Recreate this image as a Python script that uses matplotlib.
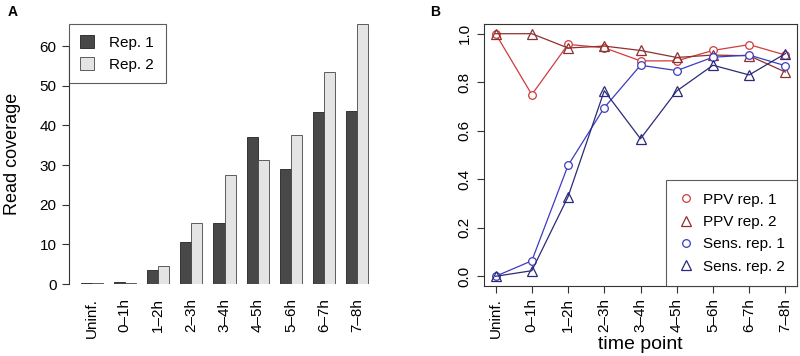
import matplotlib
matplotlib.use("Agg")
import matplotlib.pyplot as plt
import numpy as np

plt.rcParams['font.family'] = ['Liberation Sans', 'DejaVu Sans']

# ==== DATA ====
time_points = ["Uninf.", "0\u20131h", "1\u20132h", "2\u20133h", "3\u20134h",
               "4\u20135h", "5\u20136h", "6\u20137h", "7\u20138h"]

# panel A: read coverage per replicate
cov_rep1 = [0.2, 0.4, 3.6, 10.5, 15.5, 37.0, 29.0, 43.4, 43.7]
cov_rep2 = [0.2, 0.2, 4.5, 15.5, 27.6, 31.2, 37.5, 53.6, 65.6]

# panel B: PPV and sensitivity
ppv_rep1 = [1.0, 0.749, 0.956, 0.942, 0.888, 0.888, 0.931, 0.955, 0.912]
ppv_rep2 = [1.0, 1.0, 0.941, 0.949, 0.931, 0.902, 0.912, 0.909, 0.842]
sens_rep1 = [0.0, 0.064, 0.457, 0.695, 0.870, 0.848, 0.903, 0.912, 0.868]
sens_rep2 = [0.0, 0.023, 0.328, 0.765, 0.567, 0.764, 0.870, 0.830, 0.918]

# ==== STYLE ====
dark_bar = "#484848"
light_bar = "#e4e4e4"
c_ppv1 = "#d03c3c"
c_ppv2 = "#8e3030"
c_sens1 = "#3c3cc0"
c_sens2 = "#2a2a7a"

fig = plt.figure(figsize=(8.0, 3.56), dpi=100)

# ==== PANEL A ====
axA = fig.add_axes([69 / 800, 72 / 356, 311 / 800, 260 / 356])
n = len(time_points)
left1 = 1 + 3 * np.arange(n)
axA.bar(left1, cov_rep1, width=1, align="edge", color=dark_bar,
        edgecolor="#222222", linewidth=0.6, label="Rep. 1")
axA.bar(left1 + 1, cov_rep2, width=1, align="edge", color=light_bar,
        edgecolor="#444444", linewidth=0.6, label="Rep. 2")
axA.set_xlim(-0.04, 28.04)
axA.set_ylim(0, max(cov_rep2))
axA.set_xticks(left1 + 1)
axA.set_xticklabels(time_points, rotation=90, fontsize=11)
axA.tick_params(axis="x", length=0, pad=10)
axA.set_yticks(range(0, 70, 10))
axA.tick_params(axis="y", labelsize=11, length=5, width=0.8, pad=4,
                color="#333333")
for s in ["top", "right", "bottom"]:
    axA.spines[s].set_visible(False)
axA.spines["left"].set_bounds(0, 60)
axA.spines["left"].set_color("#333333")
axA.spines["left"].set_linewidth(0.8)
axA.set_ylabel("Read coverage", fontsize=13, labelpad=13)
legA = axA.legend(loc="upper left", fontsize=11, frameon=True, fancybox=False,
                  borderaxespad=0, handlelength=0.9, handleheight=0.9,
                  borderpad=0.75, handletextpad=1.0, labelspacing=0.45)
legA.get_frame().set_edgecolor("#333333")
legA.get_frame().set_linewidth(0.8)
fig.text(8 / 800, 1 - 12 / 356, "A", fontsize=10, fontweight="bold", va="center")

# ==== PANEL B ====
axB = fig.add_axes([484 / 800, 70 / 356, 313 / 800, 262 / 356])
xs = np.arange(1, n + 1)
axB.plot(xs, ppv_rep1, color=c_ppv1, lw=0.9, marker="o", ms=5.5,
         mfc="white", mec=c_ppv1, mew=0.9, label="PPV rep. 1")
axB.plot(xs, ppv_rep2, color=c_ppv2, lw=0.9, marker="^", ms=6.5,
         mfc="none", mec=c_ppv2, mew=0.9, label="PPV rep. 2")
axB.plot(xs, sens_rep1, color=c_sens1, lw=0.9, marker="o", ms=5.5,
         mfc="white", mec=c_sens1, mew=0.9, label="Sens. rep. 1")
axB.plot(xs, sens_rep2, color=c_sens2, lw=0.9, marker="^", ms=6.5,
         mfc="none", mec=c_sens2, mew=0.9, label="Sens. rep. 2")
axB.set_xlim(0.68, 9.32)
axB.set_ylim(-0.04, 1.04)
axB.set_xticks(xs)
axB.set_xticklabels(time_points, rotation=90, fontsize=11)
axB.set_yticks(np.arange(0, 1.01, 0.2))
axB.set_yticklabels(["%.1f" % v for v in np.arange(0, 1.01, 0.2)],
                    rotation=90, va="center", fontsize=11)
axB.tick_params(length=5, width=0.8, pad=4, color="#333333")
for s in axB.spines.values():
    s.set_color("#333333")
    s.set_linewidth(0.8)
axB.set_xlabel("time point", fontsize=14, labelpad=-2)
legB = axB.legend(loc="lower right", fontsize=11, frameon=True, fancybox=False,
                  borderaxespad=0, handlelength=1.0, borderpad=0.8,
                  handletextpad=0.6, labelspacing=0.55)
for h in legB.get_lines():
    h.set_linestyle("none")
legB.get_frame().set_edgecolor("#333333")
legB.get_frame().set_linewidth(0.8)
fig.text(430 / 800, 1 - 12 / 356, "B", fontsize=10, fontweight="bold", va="center")

fig.savefig("out.png", dpi=100)
